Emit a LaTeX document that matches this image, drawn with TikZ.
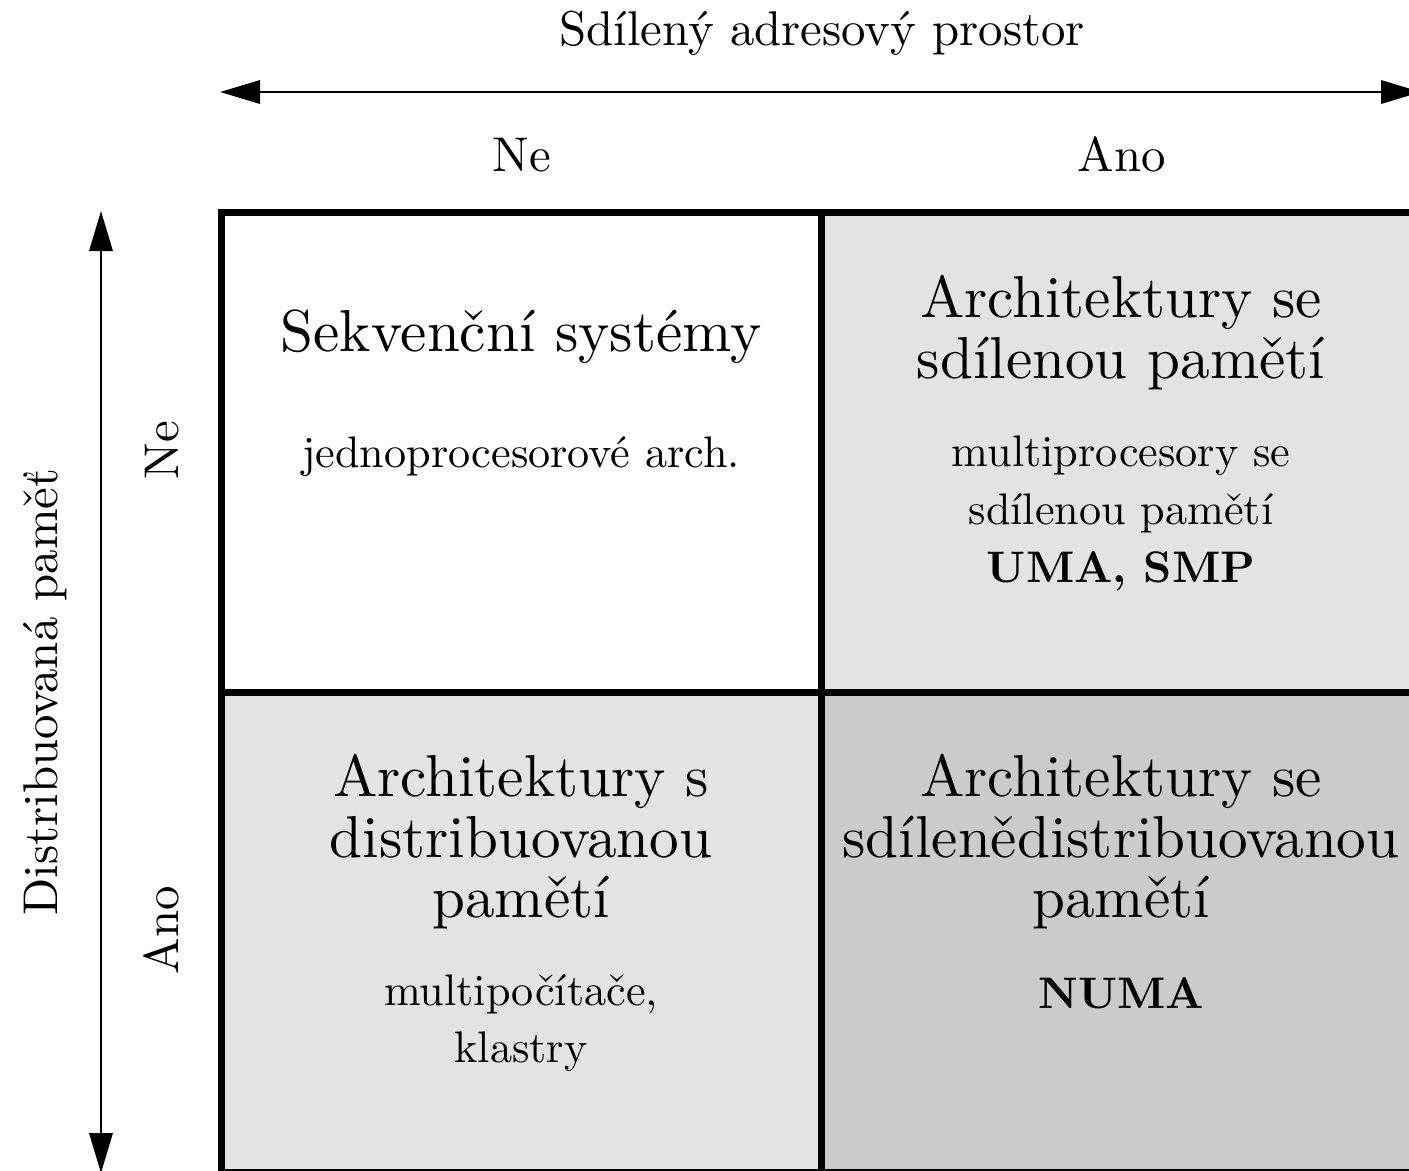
\documentclass[tikz,border=0pt]{standalone}
\usepackage{fontspec}
% one design size for every text size
\setmainfont{lmroman10-regular}[Extension=.otf, BoldFont=lmroman10-bold, ItalicFont=lmroman10-italic]
\usetikzlibrary{arrows.meta}

\definecolor{cellLight}{RGB}{227,227,227}
\definecolor{cellDark}{RGB}{203,203,203}

\tikzset{
  axisarrow/.style={line width=0.7pt, {Triangle[length=10pt,width=5.8pt]}-{Triangle[length=10pt,width=5.8pt]}},
  cellbox/.style={draw, line width=1.75pt, minimum width=150pt, minimum height=120pt, inner sep=0pt},
  headlabel/.style={font=\fontsize{12.2}{14}\selectfont, anchor=base, inner sep=0pt},
  bigtext/.style={font=\fontsize{14.8}{15}\selectfont, anchor=base, inner sep=0pt},
  smalltext/.style={font=\fontsize{11.05}{13}\selectfont, anchor=base, inner sep=0pt},
  boldtext/.style={font=\fontsize{11.05}{13}\selectfont\bfseries, anchor=base, inner sep=0pt}
}

\begin{document}
\begin{tikzpicture}[x=0.25pt, y=-0.25pt]
\useasboundingbox (0,0) rectangle (1409,1170);

% the four quadrants
\node[cellbox, fill=white]     (nn) at (521.5,452) {};
\node[cellbox, fill=cellLight] (ny) at (1121.5,452) {};
\node[cellbox, fill=cellLight] (yn) at (521.5,932) {};
\node[cellbox, fill=cellDark]  (yy) at (1121.5,932) {};

% axes
\coordinate (hL) at (220,92);
\coordinate (hR) at (1421,92);
\coordinate (vT) at (101,211);
\coordinate (vB) at (101,1173);
\draw[axisarrow] (hL) -- (hR);
\draw[axisarrow] (vT) -- (vB);

% axis captions
\node[headlabel] (hcap) at (822,45) {Sdílený adresový prostor};
\node[headlabel] (hne)  at (522,171) {Ne};
\node[headlabel] (hano) at (1122,171) {Ano};
\node[headlabel, rotate=90] (vcap) at (57,692) {Distribuovaná paměť};
\node[headlabel, rotate=90] (vne)  at (178,450) {Ne};
\node[headlabel, rotate=90] (vano) at (178,930) {Ano};

% top left
\node[bigtext]   (t11) at (521,351) {Sekvenční systémy};
\node[smalltext] (s11) at (521,467) {jednoprocesorové arch.};

% top right
\node[bigtext]   (t12a) at (1121,317) {Architektury se};
\node[bigtext]   (t12b) at (1121,378) {sdílenou pamětí};
\node[smalltext] (s12a) at (1121,466) {multiprocesory se};
\node[smalltext] (s12b) at (1121,524) {sdílenou pamětí};
\node[boldtext]  (s12c) at (1121,582) {UMA, SMP};

% bottom left
\node[bigtext]   (t21a) at (521,796) {Architektury s};
\node[bigtext]   (t21b) at (521,857) {distribuovanou};
\node[bigtext]   (t21c) at (521,917) {pamětí};
\node[smalltext] (s21a) at (521,1005) {multipočítače,};
\node[smalltext] (s21b) at (521,1062) {klastry};

% bottom right
\node[bigtext]   (t22a) at (1121,796) {Architektury se};
\node[bigtext]   (t22b) at (1121,857) {sdílenědistribuovanou};
\node[bigtext]   (t22c) at (1121,917) {pamětí};
\node[boldtext]  (s22)  at (1121,1008) {NUMA};
\end{tikzpicture}
\end{document}
